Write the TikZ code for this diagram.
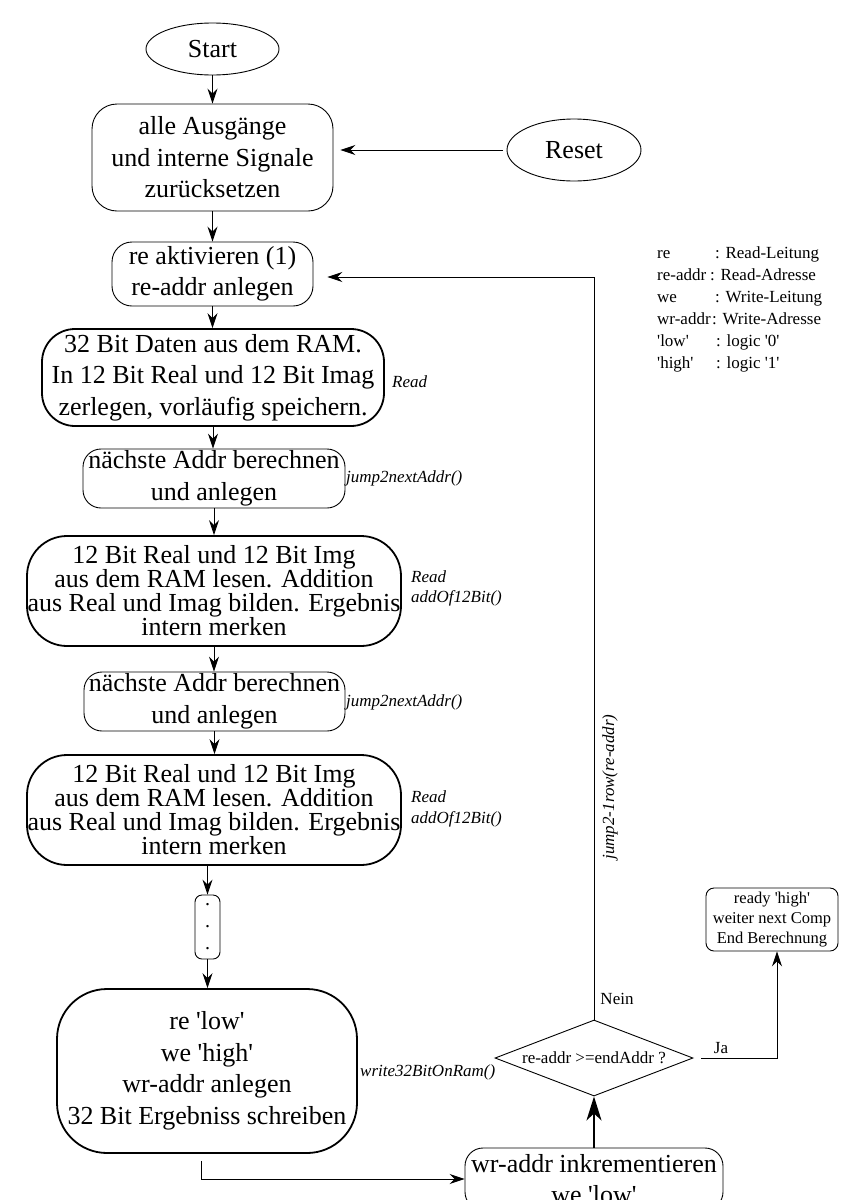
\documentclass[tikz,border=0pt]{standalone}
\usepackage{fontspec}
\setmainfont{Liberation Serif}[Ligatures=TeXOff]
\usetikzlibrary{arrows.meta,shapes.geometric}

\tikzset{
  oval/.style={draw, ellipse, inner sep=0pt, line width=0.9pt,
    font=\fontsize{26}{30}\selectfont},
  boxthin/.style={draw, rectangle, inner sep=0pt, align=center, line width=0.9pt,
    font=\fontsize{26}{31.5}\selectfont},
  boxthick/.style={boxthin, line width=1.8pt},
  tight/.style={font=\fontsize{26}{24}\selectfont},
  note/.style={inner sep=0pt, anchor=west, font=\fontsize{17}{21}\selectfont\itshape},
  lab/.style={inner sep=0pt, font=\fontsize{17}{21}\selectfont},
  legend/.style={inner sep=0pt, anchor=base west, font=\fontsize{17}{21}\selectfont},
  arr/.style={-{Stealth[length=15pt,width=10pt,inset=5pt]}, line width=0.9pt},
  arrbig/.style={-{Stealth[length=24pt,width=15pt,inset=7pt]}, line width=2pt},
}

\begin{document}
\begin{tikzpicture}[x=1pt,y=-1pt]
\useasboundingbox (0,0) rectangle (841,1200);
\fill[white] (0,0) rectangle (841,1200);
\clip (0,0) rectangle (841,1200);

% terminals
\node[oval, minimum width=133pt, minimum height=52pt] (start) at (212.5,49) {Start};
\node[oval, minimum width=134pt, minimum height=62pt] (reset) at (574,150) {Reset};

% main column
\node[boxthin, rounded corners=25pt, minimum width=241pt, minimum height=107pt] (init) at (212.5,157.5)
  {alle Ausgänge\\und interne Signale\\zurücksetzen};
\node[boxthin, rounded corners=20pt, minimum width=201pt, minimum height=64pt] (reon) at (212.5,274)
  {re aktivieren (1)\\re-addr anlegen};
\node[boxthick, rounded corners=33pt, minimum width=342pt, minimum height=97pt] (split) at (213,377.5)
  {32 Bit Daten aus dem RAM.\\In 12 Bit Real und 12 Bit Imag\\zerlegen, vorläufig speichern.};
\node[boxthin, rounded corners=18pt, minimum width=262pt, minimum height=59pt] (next1) at (214,478.5)
  {nächste Addr berechnen\\und anlegen};
\node[boxthick, tight, rounded corners=40pt, minimum width=374pt, minimum height=110pt] (add1) at (214,591)
  {12 Bit Real und 12 Bit Img\\aus dem RAM lesen. Addition\\aus Real und Imag bilden. Ergebnis\\intern merken};
\node[boxthin, rounded corners=18pt, minimum width=261pt, minimum height=59pt] (next2) at (214.5,701.5)
  {nächste Addr berechnen\\und anlegen};
\node[boxthick, tight, rounded corners=40pt, minimum width=374pt, minimum height=110pt] (add2) at (214,810)
  {12 Bit Real und 12 Bit Img\\aus dem RAM lesen. Addition\\aus Real und Imag bilden. Ergebnis\\intern merken};
\node[boxthin, rounded corners=7pt, minimum width=25pt, minimum height=64pt,
  font=\fontsize{20}{22}\selectfont] (dots) at (207.5,927) {.\\.\\.};
\node[boxthick, rounded corners=50pt, minimum width=300pt, minimum height=164pt] (low) at (207,1071)
  {re 'low'\\we 'high'\\wr-addr anlegen\\32 Bit Ergebniss schreiben};

% loop control
\node[boxthin, rounded corners=18pt, minimum width=258pt, minimum height=62pt] (wr) at (594,1179)
  {wr-addr inkrementieren\\we 'low'};
\node[draw, diamond, inner sep=0pt, line width=0.9pt, minimum width=198pt, minimum height=76pt,
  font=\fontsize{17}{21}\selectfont] (dia) at (594,1058) {\makebox[0pt]{re-addr >=endAddr ?}};
\node[boxthin, rounded corners=8pt, minimum width=132pt, minimum height=63pt,
  font=\fontsize{16.5}{20}\selectfont] (ready) at (772,919.5)
  {ready 'high'\\weiter next Comp\\End Berechnung};

% side notes
\node[note] (n1) at (392,382) {Read};
\node[note] (n2) at (346,478) {jump2nextAddr()};
\node[note] (n3) at (411,577) {Read};
\node[note] (n4) at (411,598) {addOf12Bit()};
\node[note] (n5) at (346,702) {jump2nextAddr()};
\node[note] (n6) at (411,797) {Read};
\node[note] (n7) at (411,819) {addOf12Bit()};
\node[note] (n8) at (360,1072) {write32BitOnRam()};
\node[note, anchor=center, rotate=90] (n9) at (610,787) {jump2-1row(re-addr)};
\node[lab] (nein) at (617,999) {Nein};
\node[lab] (ja) at (721,1048) {Ja};

% legend
\node[legend] (l1a) at (657,258) {re};
\node[legend] (l1b) at (715,258) {: Read-Leitung};
\node[legend] (l2a) at (657,280) {re-addr};
\node[legend] (l2b) at (710,280) {: Read-Adresse};
\node[legend] (l3a) at (657,302) {we};
\node[legend] (l3b) at (715,302) {: Write-Leitung};
\node[legend] (l4a) at (657,324) {wr-addr};
\node[legend] (l4b) at (712,324) {: Write-Adresse};
\node[legend] (l5a) at (657,346) {'low'};
\node[legend] (l5b) at (716,346) {: logic '0'};
\node[legend] (l6a) at (657,368) {'high'};
\node[legend] (l6b) at (716,368) {: logic '1'};

% connectors
\draw[arr] (start.south) -- (start.south |- init.north);
\draw[arr, shorten <=4pt, shorten >=7pt] (reset.west) -- (reset.west -| init.east);
\draw[arr] (init.south) -- (init.south |- reon.north);
\draw[arr] (reon.south) -- (reon.south |- split.north);
\draw[arr] (split.south) -- (split.south |- next1.north);
\draw[arr] (next1.south) -- (next1.south |- add1.north);
\draw[arr] (add1.south) -- (add1.south |- next2.north);
\draw[arr] (next2.south) -- (next2.south |- add2.north);
\draw[arr] (add2.south -| dots.north) -- (dots.north);
\draw[arr] (dots.south) -- (dots.south |- low.north);
\draw[arr, shorten <=7pt] ([xshift=-6pt]low.south) |- (wr.west);
\draw[arrbig] (wr.north) -- (dia.south);
\draw[arr, shorten >=14pt] (dia.north) |- ([yshift=-3pt]reon.east);
\draw[arr, shorten <=8pt] (dia.east) -| ([xshift=5pt]ready.south);
\end{tikzpicture}
\end{document}
